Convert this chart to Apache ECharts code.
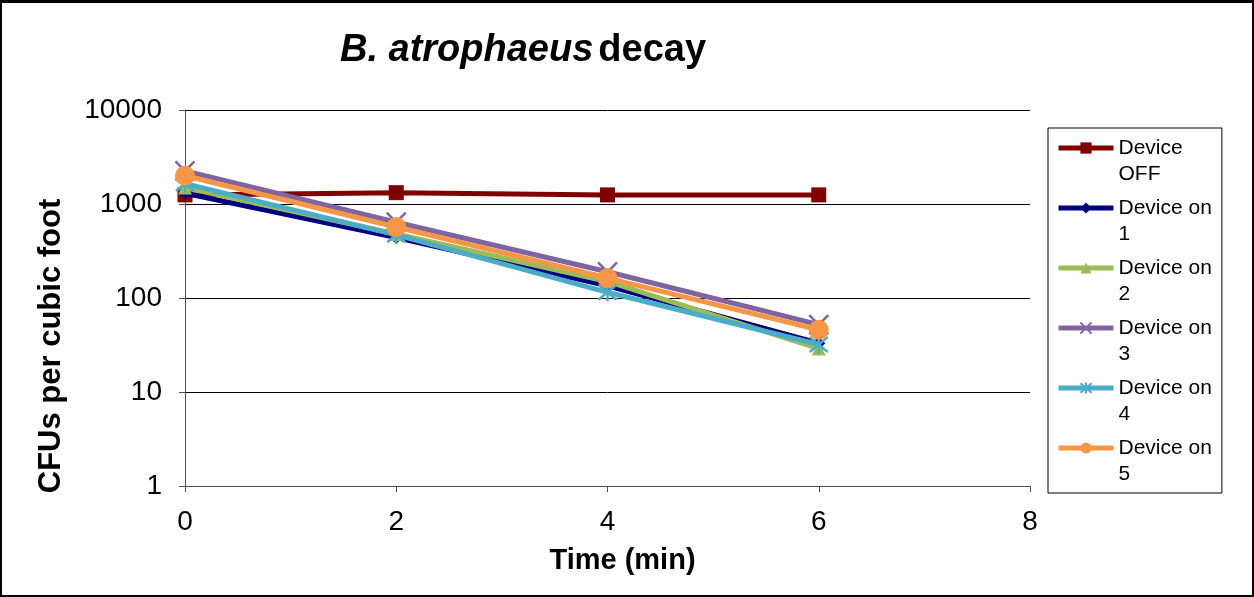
<!DOCTYPE html>
<html><head><meta charset="utf-8">
<script src="https://cdn.jsdelivr.net/npm/echarts@6/dist/echarts.min.js"></script>
<style>
html,body{margin:0;padding:0;background:#fff;}
#wrap{width:1254px;height:597px;box-sizing:border-box;border:2px solid #000;border-top-width:3px;position:relative;}
#chart{position:absolute;left:-2px;top:-3px;width:1254px;height:597px;}
</style></head>
<body><div id="wrap"><div id="chart"></div></div>
<script>
const times = [0, 2, 4, 6];
const seriesNames = ['Device OFF', 'Device on 1', 'Device on 2', 'Device on 3', 'Device on 4', 'Device on 5'];
const deviceOff = [1250, 1320, 1250, 1250];
const deviceOn1 = [1300, 440, 135, 33];
const deviceOn2 = [1500, 480, 150, 29];
const deviceOn3 = [2250, 640, 190, 52];
const deviceOn4 = [1650, 470, 115, 32];
const deviceOn5 = [2000, 570, 163, 46];
const xTicks = [0, 2, 4, 6, 8];
const yTicks = [1, 10, 100, 1000, 10000];

const colors = ['#800000', '#000080', '#9BBB59', '#8064A2', '#4BACC6', '#F79646'];
const symbols = ['rect', 'diamond', 'triangle', 'path://M0,0L10,10M10,0L0,10', 'path://M0,0L10,10M10,0L0,10M5,-1L5,11', 'circle'];
const sizes = [15, 13, 14, 19, 18, 20];
const allData = [deviceOff, deviceOn1, deviceOn2, deviceOn3, deviceOn4, deviceOn5];

const chart = echarts.init(document.getElementById('chart'), null, {renderer: 'canvas'});
const series = allData.map((vals, i) => ({
  name: seriesNames[i],
  type: 'line',
  data: vals.map((v, k) => [times[k], v]),
  symbol: symbols[i],
  symbolSize: sizes[i],
  showAllSymbol: true,
  lineStyle: {color: colors[i], width: 5},
  itemStyle: {color: colors[i], borderColor: colors[i], borderWidth: (i === 3 || i === 4) ? 2.5 : 0, opacity: 1},
  emphasis: {disabled: true},
  z: 2 + i
}));

chart.setOption({
  animation: false,
  title: {
    text: '{i|B. atrophaeus} {n|decay}',
    left: 518, top: 27, textAlign: 'center',
    textStyle: {
      rich: {
        i: {fontFamily: 'Liberation Sans', fontSize: 38, fontWeight: 'bold', fontStyle: 'italic', color: '#000'},
        n: {fontFamily: 'Liberation Sans', fontSize: 38, fontWeight: 'bold', color: '#000'}
      }
    }
  },
  grid: {left: 185, right: 224, top: 110, bottom: 111, containLabel: false},
  legend: {
    orient: 'vertical',
    left: 1048, top: 128,
    width: 176, height: 420,
    padding: [-19, 10, 6, 8],
    borderColor: '#000', borderWidth: 1,
    itemWidth: 55, itemHeight: 14, itemGap: -18,
    lineStyle: {width: 5},
    formatter: function (name) { return '\n' + name.replace(/ (\S+)$/, '\n$1'); },
    textStyle: {fontFamily: 'Liberation Sans', fontSize: 21, color: '#000', lineHeight: 26},
    data: seriesNames
  },
  xAxis: {
    type: 'value', min: xTicks[0], max: xTicks[xTicks.length - 1], interval: 2,
    name: 'Time (min)', nameLocation: 'middle', nameGap: 60,
    nameTextStyle: {fontFamily: 'Liberation Sans', fontSize: 29, fontWeight: 'bold', color: '#000', padding: [0, 0, 0, 30]},
    axisLine: {lineStyle: {color: '#505050', width: 1}},
    axisTick: {show: true, length: 6, lineStyle: {color: '#505050'}},
    axisLabel: {fontFamily: 'Liberation Sans', fontSize: 28, color: '#000', margin: 22},
    splitLine: {show: false}
  },
  yAxis: {
    type: 'log', logBase: 10, min: yTicks[0], max: yTicks[yTicks.length - 1],
    name: 'CFUs per cubic foot', nameLocation: 'middle', nameGap: 118, nameRotate: 90,
    nameTextStyle: {fontFamily: 'Liberation Sans', fontSize: 31, fontWeight: 'bold', color: '#000', padding: [0, 96, 0, 0]},
    axisLine: {show: true, lineStyle: {color: '#505050', width: 1}},
    axisTick: {show: true, length: 6, lineStyle: {color: '#505050'}},
    axisLabel: {fontFamily: 'Liberation Sans', fontSize: 28, color: '#000', margin: 23, formatter: function (v) { return String(v); }},
    splitLine: {show: true, lineStyle: {color: '#000', width: 1}},
    minorTick: {show: false}
  },
  series: series
});
</script></body></html>
